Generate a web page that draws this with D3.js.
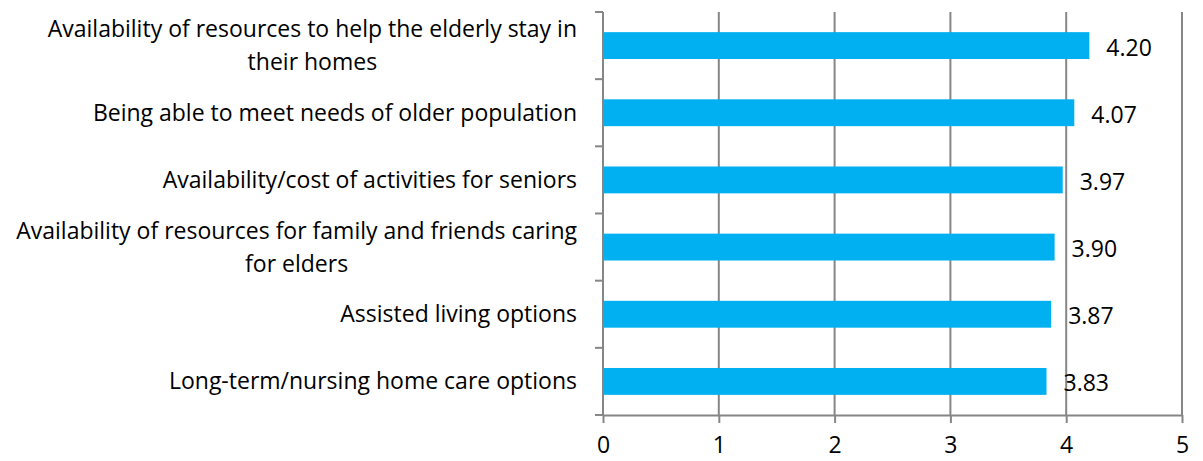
<!DOCTYPE html>
<html><head><meta charset="utf-8">
<script src="https://cdn.jsdelivr.net/npm/d3@7"></script>
<style>body{margin:0;background:#fff}svg{display:block}text{font-family:"Open Sans",sans-serif;fill:#000}</style>
</head><body>
<svg id="c" width="1203" height="461"></svg>
<script>
const categories = [
  "Availability of resources to help the elderly stay in their homes",
  "Being able to meet needs of older population",
  "Availability/cost of activities for seniors",
  "Availability of resources for family and friends caring for elders",
  "Assisted living options",
  "Long-term/nursing home care options"
];
const values = [4.20, 4.07, 3.97, 3.90, 3.87, 3.83];
const xTicks = [0, 1, 2, 3, 4, 5];

const W = 1203, H = 461;
const m = {left: 603, right: 21, top: 12, bottom: 46};
const svg = d3.select("#c");
const fs = 23;
const x = d3.scaleLinear().domain([0, 5]).range([m.left, W - m.right]);
const y = d3.scaleBand().domain(categories).range([m.top, H - m.bottom]).paddingInner(0.6).paddingOuter(0.3);
const yb = d3.scaleBand().domain(categories).range([m.top, H - m.bottom]);
const axisColor = "#868686";

// gridlines
svg.append("g").selectAll("line").data(xTicks.filter(d => d > 0)).join("line")
  .attr("x1", d => x(d)).attr("x2", d => x(d))
  .attr("y1", m.top).attr("y2", H - m.bottom)
  .attr("stroke", axisColor).attr("stroke-width", 2);

// bars
svg.append("g").selectAll("rect").data(values).join("rect")
  .attr("x", x(0)).attr("y", (d, i) => y(categories[i]))
  .attr("width", d => x(d) - x(0)).attr("height", y.bandwidth())
  .attr("fill", "#00B0F0");

// x axis
const xa = svg.append("g").attr("transform", `translate(0,${H - m.bottom})`)
  .call(d3.axisBottom(x).tickValues(xTicks).tickFormat(d3.format("d")).tickSizeInner(8).tickSizeOuter(0).tickPadding(14));
xa.select(".domain").attr("stroke", axisColor).attr("stroke-width", 2);
xa.selectAll(".tick line").attr("stroke", axisColor).attr("stroke-width", 2);
xa.selectAll("text").attr("font-size", fs).attr("font-family", "Open Sans").attr("fill", "#000");

// y axis line + ticks at band boundaries
const boundaries = categories.map(c => yb(c)).concat([H - m.bottom]);
svg.append("line").attr("x1", x(0)).attr("x2", x(0)).attr("y1", m.top).attr("y2", H - m.bottom)
  .attr("stroke", axisColor).attr("stroke-width", 2);
svg.append("g").selectAll("line").data(boundaries).join("line")
  .attr("x1", x(0) - 8).attr("x2", x(0)).attr("y1", d => d).attr("y2", d => d)
  .attr("stroke", axisColor).attr("stroke-width", 2);

// category labels (wrapped)
const labelRight = 577, maxW = 582, lineH = 33;
const lg = svg.append("g");
categories.forEach((c, i) => {
  const words = c.split(" ");
  const lines = [];
  let cur = "";
  const t = lg.append("text").attr("font-size", fs);
  words.forEach(w => {
    const test = cur ? cur + " " + w : w;
    t.text(test);
    if (t.node().getComputedTextLength() > maxW && cur) { lines.push(cur); cur = w; }
    else cur = test;
  });
  lines.push(cur);
  let mw = 0;
  lines.forEach(l => { t.text(l); mw = Math.max(mw, t.node().getComputedTextLength()); });
  t.text(null);
  const cy = yb(c) + yb.bandwidth() / 2;
  const cx = labelRight - mw / 2;
  lines.forEach((l, k) => {
    t.append("tspan").attr("x", cx).attr("text-anchor", "middle")
      .attr("y", cy + (k - (lines.length - 1) / 2) * lineH).attr("dy", "0.35em").text(l);
  });
  t.attr("text-anchor", "middle");
});

// value labels
svg.append("g").selectAll("text").data(values).join("text")
  .attr("x", d => x(d) + 17).attr("y", (d, i) => y(categories[i]) + y.bandwidth() / 2 + 2)
  .attr("dy", "0.35em").attr("font-size", fs).text(d => d3.format(".2f")(d));
</script>
</body></html>
